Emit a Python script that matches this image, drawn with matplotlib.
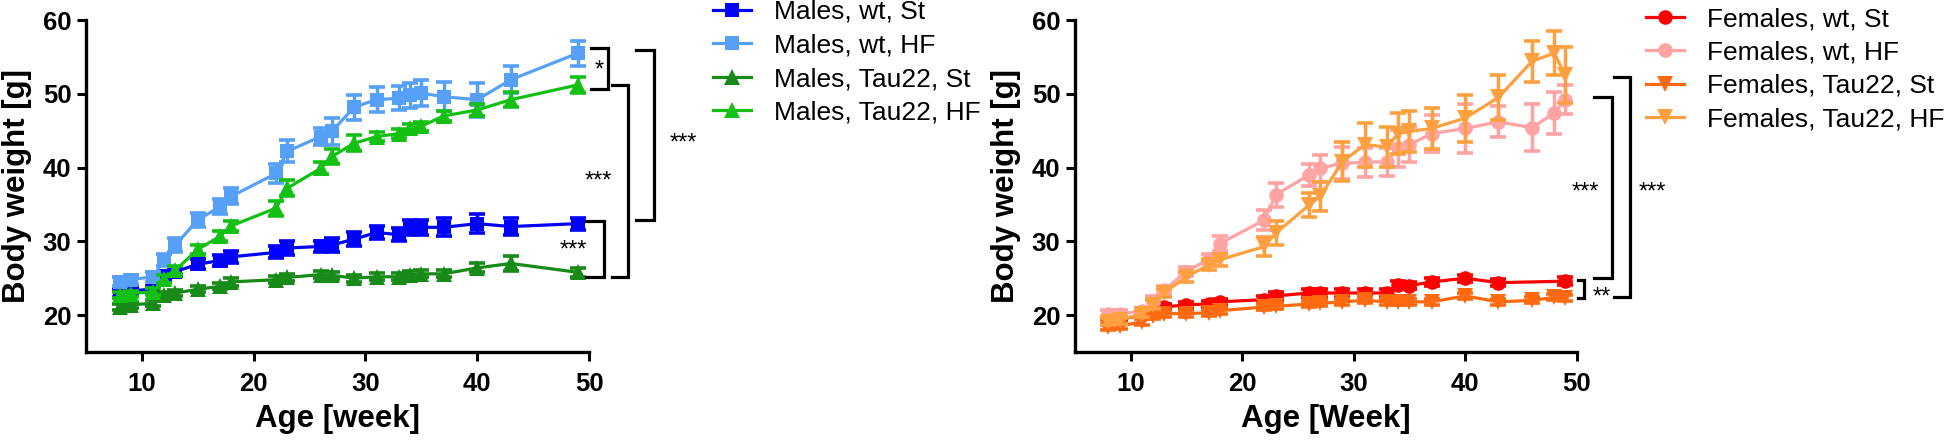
import matplotlib
matplotlib.use("Agg")
import matplotlib.pyplot as plt

plt.rcParams["font.family"] = ["Liberation Sans", "DejaVu Sans"]

# ---- data ----
male_weeks = [8, 9, 11, 12, 13, 15, 17, 18, 22, 23, 26, 27, 29, 31, 33, 34, 35, 37, 40, 43, 49]

male_wt_st = [23.0, 23.3, 23.5, 25.3, 25.9, 26.9, 27.4, 27.9, 28.5, 29.1, 29.3, 29.5,
              30.3, 31.2, 30.9, 31.9, 31.9, 31.9, 32.4, 32.0, 32.4]
male_wt_st_err = [0.5, 0.5, 0.5, 0.6, 0.6, 0.7, 0.7, 0.8, 0.8, 0.9, 0.8, 0.9,
                  0.9, 0.9, 0.9, 1.0, 1.0, 1.2, 1.3, 1.2, 0.8]

male_wt_hf = [24.5, 24.8, 25.2, 27.5, 29.5, 32.9, 34.7, 36.1, 39.2, 42.2, 44.2, 44.9,
              48.2, 49.2, 49.4, 49.8, 50.1, 49.6, 49.2, 51.9, 55.5]
male_wt_hf_err = [0.6, 0.6, 0.7, 0.8, 0.9, 1.0, 1.0, 1.1, 1.3, 1.5, 1.2, 1.8,
                  1.7, 1.7, 1.6, 1.7, 1.7, 2.0, 2.3, 1.8, 1.7]

male_tau_st = [21.1, 21.4, 21.6, 22.7, 23.0, 23.5, 23.9, 24.5, 24.8, 25.1, 25.5, 25.4,
               25.0, 25.2, 25.2, 25.5, 25.6, 25.6, 26.4, 27.0, 25.8]
male_tau_st_err = [0.4, 0.4, 0.4, 0.4, 0.4, 0.4, 0.4, 0.5, 0.5, 0.5, 0.5, 0.5,
                   0.5, 0.5, 0.5, 0.5, 0.5, 0.5, 0.6, 1.0, 0.6]

male_tau_hf = [22.7, 22.9, 23.2, 24.9, 26.1, 28.9, 30.7, 32.1, 34.5, 37.2, 39.9, 41.5,
               43.3, 44.2, 44.6, 45.3, 45.6, 47.0, 47.8, 49.2, 51.2]
male_tau_hf_err = [0.4, 0.4, 0.5, 0.5, 0.5, 0.6, 0.7, 0.7, 1.0, 1.1, 0.8, 1.0,
                   1.1, 0.6, 0.6, 0.6, 0.6, 0.7, 0.8, 1.0, 1.1]

female_weeks = [8, 9, 11, 12, 13, 15, 17, 18, 22, 23, 26, 27, 29, 31, 33, 34, 35, 37,
                40, 43, 46, 48, 49]
female_weeks_wt_st = [8, 9, 11, 12, 13, 15, 17, 18, 22, 23, 26, 27, 29, 31, 33, 34, 35,
                      37, 40, 43, 49]

female_wt_st = [19.1, 19.4, 20.0, 20.6, 21.1, 21.4, 21.5, 21.8, 22.1, 22.6, 23.0, 23.0,
                23.0, 23.0, 23.0, 24.1, 24.0, 24.5, 25.0, 24.4, 24.6]
female_wt_st_err = [0.4, 0.4, 0.4, 0.4, 0.4, 0.4, 0.4, 0.4, 0.5, 0.5, 0.5, 0.5,
                    0.5, 0.5, 0.5, 0.5, 0.5, 0.5, 0.5, 0.5, 0.5]

female_wt_hf = [20.2, 20.2, 20.5, 21.8, 23.4, 25.9, 27.6, 29.7, 32.9, 36.3, 39.0, 39.9,
                40.6, 40.7, 40.8, 42.6, 43.1, 44.6, 45.3, 46.2, 45.4, 47.4, 49.2]
female_wt_hf_err = [0.5, 0.5, 0.5, 0.8, 0.6, 0.6, 0.7, 1.0, 1.4, 1.6, 1.5, 1.8,
                    2.2, 2.0, 1.9, 2.5, 2.4, 2.5, 3.3, 2.1, 3.2, 2.9, 2.0]

female_tau_st = [18.4, 18.5, 19.1, 19.9, 20.2, 20.2, 20.3, 20.6, 21.1, 21.2, 21.5, 21.6,
                 21.8, 22.0, 21.8, 21.8, 21.8, 21.8, 22.6, 21.8, 22.0, 22.4, 22.3]
female_tau_st_err = [0.4] * 23

female_tau_hf = [19.1, 19.3, 20.2, 21.4, 23.0, 25.2, 26.8, 27.5, 29.3, 31.1, 34.9, 36.1,
                 40.8, 43.1, 42.8, 44.6, 44.9, 45.3, 46.7, 49.5, 54.4, 55.5, 52.5]
female_tau_hf_err = [0.5, 0.5, 0.5, 0.6, 0.6, 0.7, 0.7, 0.8, 1.3, 1.6, 1.6, 2.0,
                     2.6, 3.0, 2.7, 2.8, 2.8, 2.8, 3.2, 3.0, 2.8, 3.0, 3.8]

# significance brackets: (x_left, x_right, y_top, y_bottom, label, label_x, label_y)
male_brackets = [
    (50.2, 51.7, 56.2, 50.7, "*", 50.9, 53.2),
    (49.7, 51.3, 32.7, 25.2, "***", 48.6, 28.7),
    (52.1, 53.5, 51.2, 25.2, "***", 50.8, 38.1),
    (54.2, 55.8, 55.9, 32.9, "***", 58.4, 43.3),
]
female_brackets = [
    (50.1, 50.7, 24.7, 22.3, "**", 52.3, 22.4),
    (51.6, 53.2, 49.6, 25.0, "***", 50.8, 36.6),
    (53.4, 54.8, 52.3, 22.5, "***", 56.8, 36.6),
]

male_series = [
    ("Males, wt, St", male_weeks, male_wt_st, male_wt_st_err, "#0000FF", "s"),
    ("Males, wt, HF", male_weeks, male_wt_hf, male_wt_hf_err, "#56A0F8", "s"),
    ("Males, Tau22, St", male_weeks, male_tau_st, male_tau_st_err, "#178A17", "^"),
    ("Males, Tau22, HF", male_weeks, male_tau_hf, male_tau_hf_err, "#14C014", "^"),
]
female_series = [
    ("Females, wt, St", female_weeks_wt_st, female_wt_st, female_wt_st_err, "#FF0000", "o"),
    ("Females, wt, HF", female_weeks, female_wt_hf, female_wt_hf_err, "#FFA3A3", "o"),
    ("Females, Tau22, St", female_weeks, female_tau_st, female_tau_st_err, "#FF6A10", "v"),
    ("Females, Tau22, HF", female_weeks, female_tau_hf, female_tau_hf_err, "#FFA040", "v"),
]

MSIZE = {"s": 10.5, "^": 11.5, "o": 10.5, "v": 11.5}


def draw_panel(fig, rect, series, brackets, xlabel, legend_anchor):
    ax = fig.add_axes(rect)
    handles = []
    for label, x, y, err, color, marker in series:
        ax.errorbar(x, y, yerr=err, fmt="none", ecolor=color, elinewidth=2.5,
                    capsize=5.5, capthick=2.6)
        line, = ax.plot(x, y, marker=marker, color=color, lw=2.3,
                        markersize=MSIZE[marker], markeredgewidth=0, label=label)
        handles.append(line)

    ax.set_xlim(5, 50)
    ax.set_ylim(15, 60)
    ax.set_xticks([10, 20, 30, 40, 50])
    ax.set_yticks([20, 30, 40, 50, 60])
    for side in ("top", "right"):
        ax.spines[side].set_visible(False)
    for side in ("left", "bottom"):
        ax.spines[side].set_linewidth(2.4)
    ax.tick_params(width=2.2, length=6.5, labelsize=18.5, pad=4)
    ax.tick_params(axis="x", pad=8)
    for t in ax.get_xticklabels() + ax.get_yticklabels():
        t.set_fontweight("bold")
    ax.set_xlabel(xlabel, fontsize=22.5, fontweight="bold", labelpad=6)
    ax.set_ylabel("Body weight [g]", fontsize=22.5, fontweight="bold", labelpad=8)

    for x0, x1, ytop, ybot, text, tx, ty in brackets:
        ax.plot([x0, x1, x1, x0], [ytop, ytop, ybot, ybot], color="black",
                lw=2.3, clip_on=False, solid_joinstyle="miter")
        ax.text(tx, ty, text, fontsize=17, ha="center", va="center", clip_on=False)

    ax.legend(handles=handles, loc="upper left", bbox_to_anchor=legend_anchor,
              bbox_transform=fig.transFigure, frameon=False, borderpad=0,
              borderaxespad=0, handlelength=1.45, handletextpad=0.85,
              labelspacing=0.36, fontsize=19)
    return ax


fig = plt.figure(figsize=(19.46, 4.42), dpi=100)
W, H = 1946.0, 442.0

draw_panel(fig, [86 / W, 1 - 352 / H, 503 / W, 332 / H], male_series, male_brackets,
           "Age [week]", (713 / W, 1.0))
draw_panel(fig, [1075 / W, 1 - 352 / H, 501.5 / W, 332 / H], female_series,
           female_brackets, "Age [Week]", (1646 / W, 1 - 7 / H))

fig.savefig("out.png", dpi=100)
